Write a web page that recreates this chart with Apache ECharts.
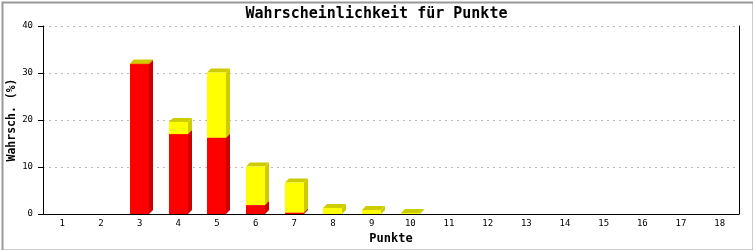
<!DOCTYPE html>
<html><head><meta charset="utf-8">
<script src="https://cdn.jsdelivr.net/npm/echarts@6/dist/echarts.min.js"></script>
<style>html,body{margin:0;padding:0;background:#fff}#c{width:753px;height:250px}</style>
</head><body><div id="c"></div>
<script>
const categories = ['1','2','3','4','5','6','7','8','9','10','11','12','13','14','15','16','17','18'];
const redValues = [0,0,31.9,17.0,16.2,1.9,0.3,0,0,0,0,0,0,0,0,0,0,0];
const yellowValues = [0,0,0.1,2.6,13.9,8.2,6.4,1.3,0.85,0.2,0,0,0,0,0,0,0,0];
const yTicks = [0,10,20,30,40];

const chart = echarts.init(document.getElementById('c'));
const font = '"DejaVu Sans Mono", monospace';

function make3D(front, dark) {
  return function (params, api) {
    const cat = api.value(0), base = api.value(1), top = api.value(2);
    if (top - base <= 0) return;
    const p0 = api.coord([cat, base]);
    const p1 = api.coord([cat, top]);
    const bw = api.size([1, 0])[0] * 0.5;
    const x0 = Math.round(p0[0] - bw / 2), x1 = x0 + Math.round(bw);
    const yb = p0[1], yt = p1[1], d = 4;
    return {
      type: 'group',
      children: [
        { type: 'polygon', shape: { points: [[x1, yt], [x1 + d, yt - d], [x1 + d, yb - d], [x1, yb]] }, style: { fill: dark } },
        { type: 'polygon', shape: { points: [[x0, yt], [x0 + d, yt - d], [x1 + d, yt - d], [x1, yt]] }, style: { fill: dark } },
        { type: 'rect', shape: { x: x0, y: yt, width: x1 - x0, height: yb - yt }, style: { fill: front } }
      ]
    };
  };
}

const redData = categories.map((c, i) => [i, 0, redValues[i]]);
const yellowData = categories.map((c, i) => [i, redValues[i], redValues[i] + yellowValues[i]]);

chart.setOption({
  animation: false,
  backgroundColor: '#fff',
  graphic: [{ type: 'rect', left: 0, top: 0, shape: { x: 1, y: 1, width: 751, height: 248 },
    style: { fill: 'none', stroke: '#999', lineWidth: 2 }, silent: true, z: 100 }],
  title: {
    text: 'Wahrscheinlichkeit für Punkte', left: 'center', top: 2,
    textStyle: { fontFamily: font, fontSize: 15, fontWeight: 'bold', color: '#000' }
  },
  grid: { left: 43, right: 14, top: 26, bottom: 36, outerBoundsMode: 'none' },
  xAxis: {
    type: 'category', data: categories, boundaryGap: true,
    name: 'Punkte', nameLocation: 'middle', nameGap: 19,
    nameTextStyle: { fontFamily: font, fontSize: 12, fontWeight: 'bold', color: '#000' },
    axisLine: { lineStyle: { color: '#000', width: 1 } },
    axisTick: { show: false },
    axisLabel: { fontFamily: font, fontSize: 9, color: '#000', margin: 5 },
    splitLine: { show: false }
  },
  yAxis: [{
    type: 'value', min: 0, max: 40, interval: 10,
    name: 'Wahrsch. (%)', nameLocation: 'middle', nameGap: 25, nameMoveOverlap: false,
    nameTextStyle: { fontFamily: font, fontSize: 11.5, fontWeight: 'bold', color: '#000' },
    axisLine: { show: true, lineStyle: { color: '#000' } },
    axisTick: { show: true, length: 5, lineStyle: { color: '#000' } },
    axisLabel: { fontFamily: font, fontSize: 9, color: '#000', margin: 10,
      formatter: v => yTicks.includes(v) ? String(v) : '' },
    splitLine: { show: true, lineStyle: { color: '#bbb', type: [2, 4] } }
  }, {
    type: 'value', min: 0, max: 40, interval: 10, position: 'right',
    axisLine: { show: true, lineStyle: { color: '#000' } },
    axisTick: { show: false }, axisLabel: { show: false }, splitLine: { show: false }
  }],
  series: [
    { type: 'custom', renderItem: make3D('#ff0000', '#cc0000'), data: redData, encode: { x: 0, y: [1, 2] } },
    { type: 'custom', renderItem: make3D('#ffff00', '#cccc00'), data: yellowData, encode: { x: 0, y: [1, 2] } }
  ]
});
</script></body></html>
